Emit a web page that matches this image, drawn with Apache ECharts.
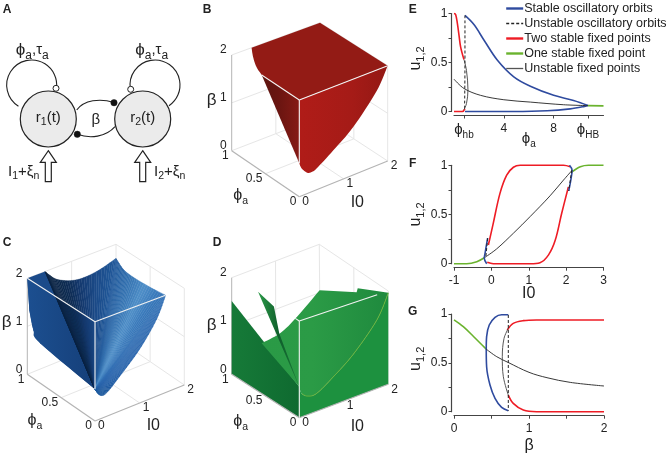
<!DOCTYPE html>
<html>
<head>
<meta charset="utf-8">
<style>html,body{margin:0;padding:0;background:#fff}#main{width:670px;height:459px}</style>
<script src="https://cdn.jsdelivr.net/npm/echarts@6/dist/echarts.min.js"></script>
</head>
<body>
<div id="main"></div>
<script>
var FONT = '"Liberation Sans", Arial, sans-serif';

// panel E: u against phi_a
var phiHb = 0.8, phiHB = 10.75;
var eRedUp = [[0,1],[0.13,0.99],[0.27,0.9],[0.4,0.78],[0.53,0.66],[0.8,0.53]];
var eRedLow = [[0,0],[0.67,0],[0.88,0.03]];
var eBlackFold = [[0.8,0.53],[1,0.42],[1.12,0.22],[1,0.08],[0.8,0.02]];
var eBlackMid = [[0,0.33],[0.8,0.235],[2.13,0.165],[4,0.12],[6.13,0.096],[8.8,0.069],[10.75,0.06]];
var eDash = [[0.88,0.98],[0.88,0.5],[0.85,0.03]];
var eBlueUp = [[0.88,0.98],[1.6,0.887],[2.4,0.73],[3.47,0.526],[4.8,0.354],[6.13,0.258],[8,0.165],[9.6,0.113],[10.75,0.062]];
var eBlueLow = [[0.88,0],[2.13,0],[4.8,0],[7.47,0.007],[9.33,0.027],[10.4,0.05],[10.75,0.062]];
var eGreen = [[10.75,0.06],[12,0.057]];

// panel F: u against I0
var fGreenL = [[-1,0],[-0.66,0],[-0.39,0.02],[-0.19,0.06]];
var fGreenR = [[2.15,0.93],[2.38,0.985],[2.6,1],[3,1]];
var fRedUp = [[-0.08,0.19],[0.05,0.41],[0.23,0.715],[0.41,0.9],[0.59,0.98],[0.77,1],[1.93,1],[2.11,0.985]];
var fRedLow = [[-0.11,0.014],[0.05,0],[1.04,0],[1.3,0.01],[1.53,0.09],[1.71,0.24],[1.88,0.51],[2.06,0.78]];
var fBlack = [[-0.17,0.065],[0.14,0.15],[0.59,0.31],[1.04,0.48],[1.57,0.69],[1.93,0.85],[2.15,0.945]];
var fBlueL = [[-0.1,0.26],[-0.17,0.105],[-0.19,0.055],[-0.125,0]];
var fBlueR = [[2.09,1],[2.16,0.95],[2.125,0.85],[2.07,0.74]];
var fDashL = [[-0.1,0.26],[-0.15,0.06]];
var fDashR = [[2.15,0.95],[2.07,0.74]];

// panel G: u against beta
var gGreen = [[0,0.94],[0.124,0.87],[0.26,0.77],[0.43,0.64]];
var gBlackMain = [[0.43,0.64],[0.57,0.563],[0.72,0.505],[1,0.403],[1.24,0.348],[1.55,0.3],[2,0.263]];
var gBlue = [[0.724,0.993],[0.635,0.993],[0.547,0.966],[0.47,0.887],[0.435,0.768],[0.43,0.64],[0.435,0.46],[0.48,0.273],[0.547,0.137],[0.635,0.044],[0.724,0.01]];
var gDash = [[0.724,0.99],[0.724,0.01]];
var gBlackFold = [[0.724,0.853],[0.667,0.75],[0.644,0.563],[0.658,0.358],[0.724,0.17]];
var gRedUp = [[0.71,0.836],[0.79,0.904],[0.924,0.932],[1.1,0.939],[2,0.939]];
var gRedLow = [[0.724,0.17],[0.79,0.085],[0.924,0.017],[1.1,0],[2,0]];

// surfaces, points are [I0, phi_a, beta]
var bTop = [[0,0,2],[2,0,2],[2,1,2],[0.45,1,2],[0.27,0.86,2],[0.1,0.7,2],[0,0.556,2]];
var bLeft = [[0,0,2],[0,0.556,2],[0,0,0.69]];
var bRight = [[0,0,2],[2,0,2],[1.75,0,1.56],[1.22,0,1],[0.77,0,0.68],[0.39,0,0.44],[0.28,0,0.41],[0.18,0,0.43],[0.053,0,0.565],[0,0,0.69]];

var cBack = [[0,1,2],[0.4,1,2],[0,0,0.64],[0,0.81,0.825],[0,0.91,1],[0,0.97,1.36]];
var cLeft = [[0,1,2],[0,0,2],[0,0,0.64],[0,0.81,0.825],[0,0.91,1],[0,0.97,1.36]];
var cFan = [[0.4,1,2],[0.47,1,1.92],[0.7,1,1.72],[1.11,1,1.57],[1.56,1,1.58],[2,1,1.7],[2,0.893,1.57],[2,0.746,1.54],[2,0.5,1.56],[1.58,0,2],[1.38,0,1.58],[1,0,1.1],[0.56,0,0.71],[0.26,0,0.475],[0.11,0,0.48],[0,0,0.64]];

var dLeft = [[0,1,1.52],[0,0,0.64],[0,0,0],[0,1,0]];
var dRight = [[0,0,0],[2,0,0],[2,0,1.96],[1.74,0,1.46],[1.21,0,0.91],[0.76,0,0.586],[0.39,0,0.37],[0.18,0,0.386],[0.05,0,0.486],[0,0,0.64]];
var dUpper = [[0.68,1,0.41],[1.09,1,0.47],[1.43,1,0.645],[2,1,1.05],[2,0.46,1.52],[2,0.444,1.62],[2,0.17,1.83],[2,0,1.96],[1.74,0,1.46],[1.21,0,0.91],[0.76,0,0.586],[0.39,0,0.37],[0.18,0,0.386],[0.05,0,0.486],[0,0,0.64]];
var dSliver = [[0.6,1,1.5],[0.96,1,1.07],[1.08,1,0.47],[0,0,0.64]];
var dRim = [[2,0,1.96],[1.74,0,1.46],[1.21,0,0.91],[0.76,0,0.586],[0.39,0,0.37],[0.18,0,0.386],[0.05,0,0.486]];

var betaTicks = [0,1,2];
var phiTicks = [0,0.5,1];
var iTicks = [0,1,2];

var BLUE = '#2f4b9f', RED = '#ee1c25', GREEN = '#6ab32e', BLACK = '#222';
var names = ['Stable oscillatory orbits','Unstable oscillatory orbits','Two stable fixed points','One stable fixed point','Unstable fixed points'];
var legendWidths = [2.4, 1.3, 2.4, 2.4, 1.3];

// projected box corners of every 3D panel, key is I0/2, phi, beta/2
var boxes = {
  b: {c000:[299.3,196.7],c100:[387.7,161],c010:[231.7,150.7],c110:[320,116.7],c001:[299.3,100],c101:[387.7,65.7],c011:[231.7,55],c111:[320,22.7]},
  c: {c000:[95,421],c100:[184.3,385],c010:[27.3,374.3],c110:[116,338.3],c001:[95,321.7],c101:[184.3,288.3],c011:[27.3,278.3],c111:[116,244.3]},
  d: {c000:[299.3,417.7],c100:[388.3,384.3],c010:[231.7,374.3],c110:[320,341],c001:[299.3,321],c101:[388.3,291],c011:[231.7,277.7],c111:[319.3,244.3]}
};

function projector(box) {
  return function(p) {
    var u = p[0] / 2, v = p[1], w = p[2] / 2, out = [0, 0];
    for (var k = 0; k < 2; k++) {
      var a = box.c000[k] * (1 - u) + box.c100[k] * u;
      var b = box.c010[k] * (1 - u) + box.c110[k] * u;
      var c = box.c001[k] * (1 - u) + box.c101[k] * u;
      var d = box.c011[k] * (1 - u) + box.c111[k] * u;
      var low = a * (1 - v) + b * v;
      var high = c * (1 - v) + d * v;
      out[k] = low * (1 - w) + high * w;
    }
    return out;
  };
}

// rounds the outline between the given point indexes, the rest stays straight
function roundOutline(pts, ranges) {
  var out = [], n = pts.length;
  for (var i = 0; i < n; i++) {
    var r = null;
    (ranges || []).forEach(function(x) { if (x[0] <= i && i + 1 <= x[1]) r = x; });
    if (!r) { out.push(pts[i]); continue; }
    var p0 = pts[Math.max(i - 1, r[0])], p1 = pts[i], p2 = pts[i + 1], p3 = pts[Math.min(i + 2, r[1])];
    for (var s = 0; s < 8; s++) {
      var t = s / 8, q = [0, 0];
      for (var k = 0; k < 2; k++) {
        q[k] = 0.5 * (2 * p1[k] + (p2[k] - p0[k]) * t + (2 * p0[k] - 5 * p1[k] + 4 * p2[k] - p3[k]) * t * t + (3 * p1[k] - p0[k] - 3 * p2[k] + p3[k]) * t * t * t);
      }
      out.push(q);
    }
  }
  return out;
}

function hGrad(stops) {
  return {type: 'linear', x: 0, y: 0, x2: 1, y2: 0, colorStops: stops.map(function(s) {
    return {offset: s[0], color: s[1]};
  })};
}

function shade(stops, deg) {
  var hex = function(c) { return [1, 3, 5].map(function(i) { return parseInt(c.substr(i, 2), 16); }); };
  if (deg <= stops[0][0]) return stops[0][1];
  for (var i = 1; i < stops.length; i++) {
    if (deg <= stops[i][0]) {
      var f = (deg - stops[i - 1][0]) / (stops[i][0] - stops[i - 1][0]);
      var a = hex(stops[i - 1][1]), b = hex(stops[i][1]);
      return 'rgb(' + Math.round(a[0] + (b[0] - a[0]) * f) + ',' + Math.round(a[1] + (b[1] - a[1]) * f) + ',' + Math.round(a[2] + (b[2] - a[2]) * f) + ')';
    }
  }
  return stops[stops.length - 1][1];
}

function panelRich() {
  return {
    n: {fontFamily: FONT, fontSize: 16, fill: '#222', color: '#222', padding: [0, 0, 3, 0]},
    s: {fontFamily: FONT, fontSize: 10.5, fill: '#222', color: '#222', verticalAlign: 'bottom'},
    l: {fontFamily: FONT, fontSize: 15, fill: '#222', color: '#222', padding: [0, 0, 3, 0]},
    p: {fontFamily: FONT, fontSize: 17, fill: '#222', color: '#222', padding: [0, 0, 3, 0]},
    a: {fontFamily: FONT, fontSize: 12, fill: '#222', color: '#222', verticalAlign: 'bottom'}
  };
}

function box3d(key, faces, whites, axisPos) {
  var proj = projector(boxes[key]);
  var kids = [];
  function line(a, b, color, w) {
    var p = proj(a), q = proj(b);
    kids.push({type: 'line', shape: {x1: p[0], y1: p[1], x2: q[0], y2: q[1]}, style: {stroke: color, lineWidth: w}, silent: true});
  }
  function label(p, dx, dy, t, align) {
    var xy = proj(p);
    kids.push({type: 'text', x: xy[0] + dx, y: xy[1] + dy, style: {text: t, fill: '#222', fontFamily: FONT, fontSize: 12, align: align, verticalAlign: 'middle'}});
  }
  var wall = '#e6e6e6', edge = '#b4b4b4';
  // back walls and floor
  line([2,1,0],[2,1,2],wall,1); line([2,1,0],[0,1,0],wall,1); line([2,1,0],[2,0,0],wall,1);
  line([0,1,2],[2,1,2],wall,1); line([2,1,2],[2,0,2],wall,1); line([1,1,0],[1,1,2],wall,1);
  line([2,0.5,0],[2,0.5,2],wall,1); line([0,1,1],[2,1,1],wall,1); line([2,1,1],[2,0,1],wall,1);
  line([0,0.5,0],[2,0.5,0],wall,1); line([1,0,0],[1,1,0],wall,1);
  // axes
  line([0,1,0],[0,1,2],edge,1); line([2,0,0],[2,0,2],wall,1);
  faces.forEach(function(f) {
    var pts = roundOutline(f.pts.map(proj), f.round);
    if (f.stroke) {
      pts.pop();
      kids.push({type: 'polyline', shape: {points: pts}, style: {stroke: f.stroke, lineWidth: f.width, fill: null}});
    } else if (f.fan) {
      // the ridged sheet: one thin wedge per outline step, all meeting in the last point
      var tip = pts[pts.length - 1];
      for (var i = 0; i + 1 < pts.length - 1; i++) {
        var deg = Math.atan2(pts[i][0] - tip[0], tip[1] - pts[i][1]) * 180 / Math.PI;
        var col = shade(f.fan, deg);
        kids.push({type: 'polygon', shape: {points: [tip, pts[i], pts[i + 1]]}, style: {fill: col, stroke: col, lineWidth: 0.4}});
      }
    } else {
      kids.push({type: 'polygon', shape: {points: pts}, style: {fill: f.fill}});
    }
  });
  line([0,0,0],[2,0,0],edge,1.2); line([0,0,0],[0,1,0],edge,1.2);
  whites.forEach(function(w) { line(w[0], w[1], '#f2f2f2', 1.1); });
  betaTicks.forEach(function(v) { label([0,1,v], -5, -5, String(v), 'right'); });
  phiTicks.forEach(function(v) { label([0,v,0], -3, 5, String(v), 'right'); });
  iTicks.forEach(function(v) { label([v,0,0], 3, 5, String(v), 'left'); });
  kids.push({type: 'text', x: axisPos.phi[0], y: axisPos.phi[1], style: {text: '{n|ϕ}{s|a}', rich: panelRich(), align: 'center', verticalAlign: 'middle'}});
  kids.push({type: 'text', x: axisPos.i0[0], y: axisPos.i0[1], style: {text: 'I0', fill: '#222', fontFamily: FONT, fontSize: 16, align: 'center', verticalAlign: 'middle'}});
  kids.push({type: 'text', x: axisPos.beta[0], y: axisPos.beta[1], style: {text: 'β', fill: '#222', fontFamily: FONT, fontSize: 17, align: 'center', verticalAlign: 'middle'}});
  return {
    type: 'custom', coordinateSystem: 'none', data: [0], silent: true, animation: false,
    renderItem: function() { return {type: 'group', children: kids}; }
  };
}

var seriesList = [];

seriesList.push(box3d('b', [
  {pts: bLeft, fill: hGrad([[0,'#5c1510'],[0.45,'#6a1511'],[1,'#861a15']])},
  {pts: bRight, round: [[1,9]], fill: hGrad([[0,'#b01c18'],[0.6,'#a51b17'],[1,'#931814']])},
  {pts: bTop, round: [[3,6]], fill: '#931b15'}
], [[[0,0,2],[2,0,2]], [[0,0,2],[0,0.556,2]], [[0,0,2],[0,0,0.69]]],
  {phi: [240.7,196.7], i0: [357.3,202.3], beta: [211.7,100]}));

seriesList.push(box3d('c', [
  {pts: cBack, fill: '#1b4b8a'},
  {pts: cLeft, round: [[2,5]], fill: hGrad([[0,'#1c4f90'],[1,'#153f79']])},
  {pts: cFan, round: [[0,5],[5,9],[9,15]], fan: [[-23,'#0b2342'],[-15,'#0e2d55'],[-9,'#15396e'],[0,'#1b4a88'],[7,'#1f5596'],[15,'#2f6cac'],[25,'#4f8fc8'],[32,'#3a7abb'],[42,'#2f6ab0'],[60,'#2560a8'],[90,'#1f5a9e']]}
], [[[0,1,2],[0,0,2]], [[0,0,2],[0,0,0.64]], [[0,0,2],[1.58,0,2]]],
  {phi: [35,421.7], i0: [153.3,425.7], beta: [6.7,322.7]}));

seriesList.push(box3d('d', [
  {pts: dLeft, fill: hGrad([[0,'#167a38'],[1,'#0f6a30']])},
  {pts: dUpper, round: [[0,3],[7,14]], fill: hGrad([[0,'#2a9a46'],[0.4,'#2b9b46'],[1,'#1f8a3e']])},
  {pts: dRight, round: [[2,9]], fill: '#1d913f'},
  {pts: dSliver, fill: hGrad([[0,'#2c9a48'],[0.5,'#0f5f2c'],[1,'#1a7a38']])},
  {pts: dRim, round: [[0,6]], stroke: '#6cb33c', width: 1}
], [[[0,0,2],[0,0,0]], [[0,0,2],[1.75,0,2]], [[0,0,2],[0,0.06,2]]],
  {phi: [240.7,423], i0: [357.3,426.7], beta: [211.7,325]}));

function addLine(name, data, idx, color, width, dashed) {
  seriesList.push({
    name: name, type: 'line', data: data, xAxisIndex: idx, yAxisIndex: idx,
    showSymbol: false, symbol: 'none', smooth: data.length > 2 ? 0.35 : false, clip: false, animation: false,
    lineStyle: {color: color, width: width, type: dashed ? [3, 2] : 'solid'},
    itemStyle: {color: color}, z: dashed ? 4 : 3
  });
}

// order keeps the thin lines over the thick ones
addLine(names[0], eBlueUp, 0, BLUE, 1.6);
addLine(names[0], eBlueLow, 0, BLUE, 1.6);
addLine(names[2], eRedUp, 0, RED, 1.6);
addLine(names[2], eRedLow, 0, RED, 1.6);
addLine(names[3], eGreen, 0, GREEN, 1.6);
addLine(names[4], eBlackFold, 0, '#555', 1);
addLine(names[4], eBlackMid, 0, BLACK, 0.9);
addLine(names[1], eDash, 0, BLACK, 1, true);

addLine(names[3], fGreenL, 1, GREEN, 1.6);
addLine(names[3], fGreenR, 1, GREEN, 1.6);
addLine(names[2], fRedUp, 1, RED, 1.6);
addLine(names[2], fRedLow, 1, RED, 1.6);
addLine(names[0], fBlueL, 1, BLUE, 1.6);
addLine(names[0], fBlueR, 1, BLUE, 1.6);
addLine(names[4], fBlack, 1, BLACK, 0.9);
addLine(names[1], fDashL, 1, BLACK, 1, true);
addLine(names[1], fDashR, 1, BLACK, 1, true);

addLine(names[3], gGreen, 2, GREEN, 1.6);
addLine(names[0], gBlue, 2, BLUE, 1.6);
addLine(names[2], gRedUp, 2, RED, 1.6);
addLine(names[2], gRedLow, 2, RED, 1.6);
addLine(names[4], gBlackMain, 2, BLACK, 0.9);
addLine(names[4], gBlackFold, 2, '#444', 0.9);
addLine(names[1], gDash, 2, BLACK, 1, true);

var axisColor = '#444';
var tickRich = {
  n: {fontFamily: FONT, fontSize: 15, color: '#222', padding: [0, 0, 3, 0]},
  s: {fontFamily: FONT, fontSize: 10, color: '#222', verticalAlign: 'bottom'}
};

function xAxis(idx, min, max, ticks, labels, name, gap, fmt) {
  return {
    type: 'value', gridIndex: idx, min: min, max: max, offset: 4,
    axisLine: {onZero: false, lineStyle: {color: axisColor, width: 1.2}},
    axisTick: {customValues: ticks, length: 3, lineStyle: {color: axisColor, width: 1}},
    axisLabel: {customValues: labels, color: '#222', fontFamily: FONT, fontSize: 12, margin: 7, rich: tickRich, formatter: fmt, hideOverlap: false, showMinLabel: true, showMaxLabel: true},
    splitLine: {show: false}, name: name, nameLocation: 'middle', nameGap: gap, nameMoveOverlap: false,
    nameTextStyle: {color: '#222', fontFamily: FONT, fontSize: 16, rich: tickRich}
  };
}

function yAxis(idx, shift) {
  return {
    type: 'value', gridIndex: idx, min: 0, max: 1, offset: 2.5,
    axisLine: {show: true, onZero: false, lineStyle: {color: axisColor, width: 1.2}},
    axisTick: {show: true, customValues: [0, 0.25, 0.5, 0.75, 1], length: 3, lineStyle: {color: axisColor, width: 1}},
    axisLabel: {customValues: [0, 0.5, 1], color: '#222', fontFamily: FONT, fontSize: 12, margin: 4},
    splitLine: {show: false},
    name: '{n|u}{s|1,2}', nameLocation: 'middle', nameGap: 21, nameRotate: 90,
    nameTextStyle: {padding: [0, 0, 0, shift], rich: {
      n: {fontFamily: FONT, fontSize: 16, color: '#222', padding: [0, 0, 3, 0]},
      s: {fontFamily: FONT, fontSize: 11, color: '#222', verticalAlign: 'bottom'}
    }}
  };
}

function eLabel(v) {
  if (v === phiHb) return '{n|ϕ}{s|hb}';
  if (v === phiHB) return '{n|ϕ}{s|HB}';
  return String(v);
}

function txt(x, y, t, size, weight, align) {
  return {type: 'text', x: x, y: y, silent: true, style: {text: t, fill: '#222', fontFamily: FONT, fontSize: size, fontWeight: weight || 'normal', align: align || 'center', verticalAlign: 'middle'}};
}

function rtxt(x, y, t, align) {
  return {type: 'text', x: x, y: y, silent: true, style: {text: t, rich: panelRich(), align: align || 'center', verticalAlign: 'middle'}};
}

function ring(x, y, r, fill, lw) {
  return {type: 'circle', shape: {cx: x, cy: y, r: r}, silent: true, style: {fill: fill, stroke: '#222', lineWidth: lw}};
}

function curve(a, c1, c2, b) {
  return {type: 'bezierCurve', silent: true, shape: {x1: a[0], y1: a[1], cpx1: c1[0], cpy1: c1[1], cpx2: c2[0], cpy2: c2[1], x2: b[0], y2: b[1]}, style: {stroke: '#222', lineWidth: 1.1, fill: null}};
}

function loop(x, y, r, from, to) {
  return {type: 'arc', silent: true, shape: {cx: x, cy: y, r: r, startAngle: from, endAngle: to, clockwise: true}, style: {stroke: '#222', lineWidth: 1.1, fill: null}};
}

function upArrow(x) {
  return {type: 'polygon', silent: true, shape: {points: [[x,150.7],[x + 8,162.3],[x + 3,162.3],[x + 3,181.7],[x - 3,181.7],[x - 3,162.3],[x - 8,162.3]]}, style: {fill: '#fff', stroke: '#222', lineWidth: 1.2}};
}

var graphics = [
  txt(7, 10, 'A', 12, 'bold'), txt(207, 10, 'B', 12, 'bold'), txt(7, 243, 'C', 12, 'bold'),
  txt(217, 243, 'D', 12, 'bold'), txt(412.7, 10, 'E', 12, 'bold'), txt(412.7, 163.7, 'F', 12, 'bold'),
  txt(412.7, 311.7, 'G', 12, 'bold'),
  loop(31.7, 85, 25, 2.13, 6.42),
  loop(155, 85, 25, 2.97, 7.26),
  curve([76.7,110], [84,100], [100,98], [114,102.5]),
  curve([77.3,134.3], [90,139], [106,137], [115,126.7]),
  ring(48.3, 119, 28, '#ebebeb', 1.2),
  ring(142.7, 119, 28, '#ebebeb', 1.2),
  ring(56, 88.3, 3, '#fff', 1),
  ring(130.7, 89.3, 3, '#fff', 1),
  ring(114, 102.7, 3.2, '#111', 0.5),
  ring(77.3, 134.3, 3.2, '#111', 0.5),
  upArrow(48.3),
  upArrow(142.7),
  rtxt(32.3, 51.7, '{p|ϕ}{a|a}{l|,τ}{a|a}'),
  rtxt(151.7, 51.7, '{p|ϕ}{a|a}{l|,τ}{a|a}'),
  rtxt(48.3, 119, '{l|r}{s|1}{l|(t)}'),
  rtxt(142.7, 119, '{l|r}{s|2}{l|(t)}'),
  txt(95.7, 120, 'β', 15),
  rtxt(8, 173, '{l|I}{s|1}{l|+ξ}{s|n}', 'left'),
  rtxt(154, 173, '{l|I}{s|2}{l|+ξ}{s|n}', 'left')
];

var option = {
  backgroundColor: '#fff',
  animation: false,
  textStyle: {fontFamily: FONT},
  grid: [
    {left: 454, width: 149.5, top: 13.5, height: 98},
    {left: 454, width: 149.5, top: 165.3, height: 98.4},
    {left: 454, width: 150, top: 314, height: 97.7}
  ],
  xAxis: [
    xAxis(0, 0, 12, [phiHb, 4, 8, phiHB], [phiHb, 4, 8, phiHB], '{n|ϕ}{s|a}', 16, eLabel),
    xAxis(1, -1, 3, [-1, 0, 1, 2, 3], [-1, 0, 1, 2, 3], 'I0', 18),
    xAxis(2, 0, 2, [0, 0.5, 1, 1.5, 2], [0, 1, 2], 'β', 22)
  ],
  yAxis: [yAxis(0, 8), yAxis(1, 0), yAxis(2, 8)],
  legend: {
    data: names.map(function(n, i) { return {name: n, lineStyle: {width: legendWidths[i]}}; }),
    orient: 'vertical', left: 505, top: 2, itemWidth: 17, itemHeight: 10, itemGap: 2,
    padding: 0, selectedMode: false,
    itemStyle: {color: 'rgba(0,0,0,0)', opacity: 0, borderWidth: 0},
    textStyle: {color: '#222', fontFamily: FONT, fontSize: 12.5, padding: [0, 0, 0, -4]}
  },
  graphic: {elements: graphics},
  series: seriesList
};

var chart = echarts.init(document.getElementById('main'), null, {renderer: 'canvas'});
chart.setOption(option);
</script>
</body>
</html>
